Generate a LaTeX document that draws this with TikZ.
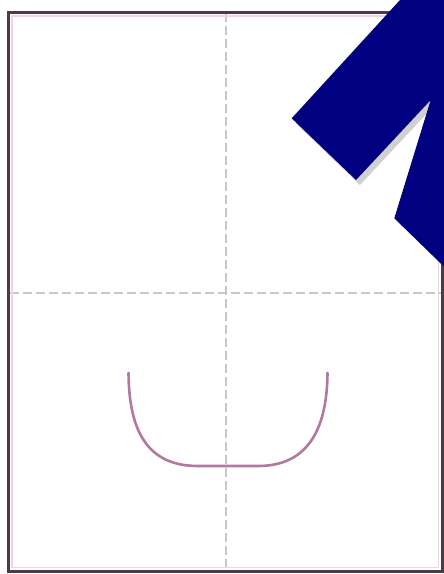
\documentclass[tikz,border=0pt]{standalone}
\usetikzlibrary{calc}
\definecolor{framecol}{HTML}{4B3B48}
\definecolor{pinkline}{HTML}{F4D2E4}
\definecolor{dashcol}{HTML}{C8C8C8}
\definecolor{curvecol}{HTML}{B07A9C}
\definecolor{arrowcol}{HTML}{000080}
\definecolor{shadowcol}{HTML}{D0D0D0}
\begin{document}
\begin{tikzpicture}[x=1pt,y=-1pt,
  framestyle/.style={draw=framecol,line width=3pt},
  innerstyle/.style={draw=pinkline,line width=1.2pt},
  guide/.style={draw=dashcol,line width=1.2pt,dash pattern=on 9pt off 4pt},
  curvestyle/.style={draw=curvecol,line width=2.6pt,line cap=round},
  arrowfill/.style={fill=arrowcol},
  shadowfill/.style={fill=shadowcol}]
\useasboundingbox (0,0) rectangle (444,574);
\fill[white] (0,0) rectangle (444,574);
% guides
\coordinate (vt) at (226,13);
\coordinate (vb) at (226,570);
\coordinate (hl) at (10,293);
\coordinate (hr) at (441,293);
\draw[guide] (vt) -- (vb);
\draw[guide] (hl) -- (hr);
% inner pink line and frame
\draw[innerstyle] (12,16) rectangle (438.5,567.5);
\draw[framestyle] (8.5,12) rectangle (442,571);
% curve
\coordinate (cl) at (128.5,373);
\coordinate (cr) at (327.5,373);
\draw[curvestyle] (cl) .. controls (129,432) and (148,466) .. (198,466)
  -- (258,466) .. controls (306,466) and (327,432) .. (cr);
% arrow with shadow
\begin{scope}
\clip (0,0) rectangle (444,574);
\fill[shadowfill,shift={(4,5)}] (291.7,118.3) -- (400,0) -- (520,-20) -- (520,30) -- (430.7,100) -- (356,180) -- cycle;
\fill[arrowfill] (291.7,118.3) -- (400,0) -- (450,0) -- (450,272.5) -- (394.3,218.3) -- (430.7,100) -- (356,180) -- cycle;
\end{scope}
\end{tikzpicture}
\end{document}
